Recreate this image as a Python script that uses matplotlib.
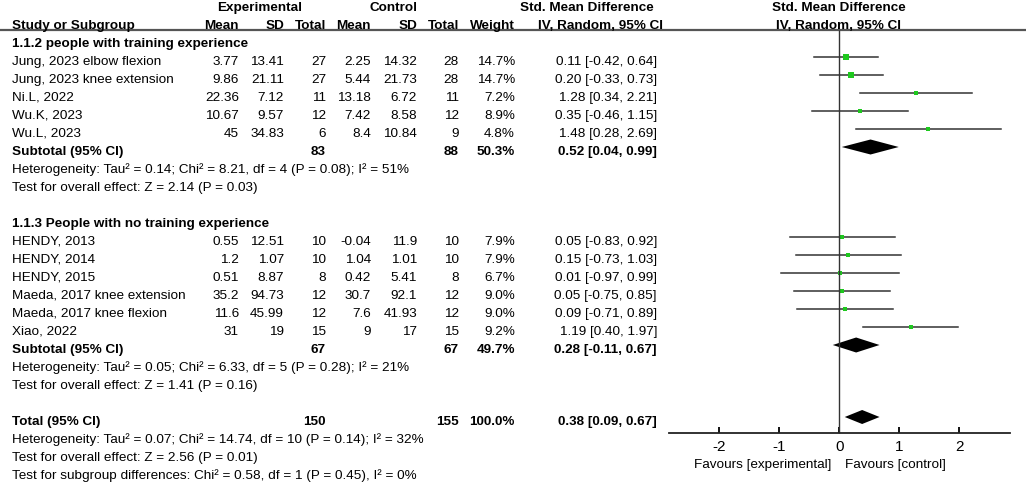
import matplotlib.pyplot as plt

plt.rcParams['font.family'] = ['Liberation Sans', 'DejaVu Sans']
plt.rcParams['axes.unicode_minus'] = False

# group 1.1.2
names1 = ['Jung, 2023 elbow flexion', 'Jung, 2023 knee extension', 'Ni.L, 2022', 'Wu.K, 2023', 'Wu.L, 2023']
exp_mean1 = ['3.77', '9.86', '22.36', '10.67', '45']
exp_sd1 = ['13.41', '21.11', '7.12', '9.57', '34.83']
exp_n1 = [27, 27, 11, 12, 6]
ctl_mean1 = ['2.25', '5.44', '13.18', '7.42', '8.4']
ctl_sd1 = ['14.32', '21.73', '6.72', '8.58', '10.84']
ctl_n1 = [28, 28, 11, 12, 9]
weight1 = [14.7, 14.7, 7.2, 8.9, 4.8]
smd1 = [0.11, 0.20, 1.28, 0.35, 1.48]
lo1 = [-0.42, -0.33, 0.34, -0.46, 0.28]
hi1 = [0.64, 0.73, 2.21, 1.15, 2.69]
sub1 = (0.52, 0.04, 0.99)

# group 1.1.3
names2 = ['HENDY, 2013', 'HENDY, 2014', 'HENDY, 2015', 'Maeda, 2017 knee extension', 'Maeda, 2017 knee flexion', 'Xiao, 2022']
exp_mean2 = ['0.55', '1.2', '0.51', '35.2', '11.6', '31']
exp_sd2 = ['12.51', '1.07', '8.87', '94.73', '45.99', '19']
exp_n2 = [10, 10, 8, 12, 12, 15]
ctl_mean2 = ['-0.04', '1.04', '0.42', '30.7', '7.6', '9']
ctl_sd2 = ['11.9', '1.01', '5.41', '92.1', '41.93', '17']
ctl_n2 = [10, 10, 8, 12, 12, 15]
weight2 = [7.9, 7.9, 6.7, 9.0, 9.0, 9.2]
smd2 = [0.05, 0.15, 0.01, 0.05, 0.09, 1.19]
lo2 = [-0.83, -0.73, -0.97, -0.75, -0.71, 0.40]
hi2 = [0.92, 1.03, 0.99, 0.85, 0.89, 1.97]
sub2 = (0.28, -0.11, 0.67)

total = (0.38, 0.09, 0.67)
xticks = [-2, -1, 0, 1, 2]

W, H = 1026, 485
fig = plt.figure(figsize=(W / 100, H / 100), dpi=100)
tab = fig.add_axes([0, 0, 1, 1])
tab.set_xlim(0, W)
tab.set_ylim(H, 0)
tab.axis('off')

x0, x1 = -2.84, 2.845
px0, px1 = 669, 1010
ax = fig.add_axes([px0 / W, 0, (px1 - px0) / W, 1])
ax.set_xlim(x0, x1)
ax.set_ylim(H, 0)
ax.patch.set_alpha(0)

fs = 9.7
cols = [239, 284, 326, 371, 417, 459, 515]
ci_x = 657


def row_y(i):
    return 8 + 18 * i


def txt(x, i, s, ha='left', bold=False):
    tab.text(x, row_y(i), s, ha=ha, va='center', fontsize=fs,
             fontweight='bold' if bold else 'normal')


# headers
tab.text(260, row_y(0), 'Experimental', ha='center', va='center', fontsize=fs, fontweight='bold')
tab.text(394, row_y(0), 'Control', ha='center', va='center', fontsize=fs, fontweight='bold')
tab.text(587, row_y(0), 'Std. Mean Difference', ha='center', va='center', fontsize=fs, fontweight='bold')
tab.text(601, row_y(1), 'IV, Random, 95% CI', ha='center', va='center', fontsize=fs, fontweight='bold')
tab.text(839, row_y(0), 'Std. Mean Difference', ha='center', va='center', fontsize=fs, fontweight='bold')
tab.text(838, row_y(1), 'IV, Random, 95% CI', ha='center', va='center', fontsize=fs, fontweight='bold')
txt(12, 1, 'Study or Subgroup', bold=True)
for x, s in zip(cols, ['Mean', 'SD', 'Total', 'Mean', 'SD', 'Total', 'Weight']):
    txt(x, 1, s, ha='right', bold=True)
tab.plot([0, W], [31, 31], color='#555555', lw=1.6)


def diamond(est, y, h=7.5):
    m, l, u = est
    ax.fill([l, m, u, m], [y, y - h, y, y + h], color='black', lw=0)


def draw_group(start, title, names, em, es, en, cm, cs, cn, wt, smd, lo, hi, sub, het, test):
    txt(12, start, title, bold=True)
    for k in range(len(names)):
        i = start + 1 + k
        txt(12, i, names[k])
        vals = [em[k], es[k], str(en[k]), cm[k], cs[k], str(cn[k]), '%.1f%%' % wt[k]]
        for x, s in zip(cols, vals):
            txt(x, i, s, ha='right')
        txt(ci_x, i, '%.2f [%.2f, %.2f]' % (smd[k], lo[k], hi[k]), ha='right')
        y = row_y(i) - 4
        ax.plot([lo[k], hi[k]], [y, y], color='#333333', lw=1.1)
        ax.plot(smd[k], y, marker='s', color='#1ec81e', ms=1.05 * wt[k] ** 0.5, mew=0)
    i = start + 1 + len(names)
    txt(12, i, 'Subtotal (95% CI)', bold=True)
    txt(cols[2], i, str(sum(en)), ha='right', bold=True)
    txt(cols[5], i, str(sum(cn)), ha='right', bold=True)
    txt(cols[6], i, '%.1f%%' % sum(wt), ha='right', bold=True)
    txt(ci_x, i, '%.2f [%.2f, %.2f]' % sub, ha='right', bold=True)
    diamond(sub, row_y(i) - 4)
    txt(12, i + 1, het)
    txt(12, i + 2, test)


draw_group(2, '1.1.2 people with training experience', names1, exp_mean1, exp_sd1, exp_n1,
           ctl_mean1, ctl_sd1, ctl_n1, weight1, smd1, lo1, hi1, sub1,
           'Heterogeneity: Tau\u00b2 = 0.14; Chi\u00b2 = 8.21, df = 4 (P = 0.08); I\u00b2 = 51%',
           'Test for overall effect: Z = 2.14 (P = 0.03)')
draw_group(12, '1.1.3 People with no training experience', names2, exp_mean2, exp_sd2, exp_n2,
           ctl_mean2, ctl_sd2, ctl_n2, weight2, smd2, lo2, hi2, sub2,
           'Heterogeneity: Tau\u00b2 = 0.05; Chi\u00b2 = 6.33, df = 5 (P = 0.28); I\u00b2 = 21%',
           'Test for overall effect: Z = 1.41 (P = 0.16)')

txt(12, 23, 'Total (95% CI)', bold=True)
txt(cols[2], 23, str(sum(exp_n1) + sum(exp_n2)), ha='right', bold=True)
txt(cols[5], 23, str(sum(ctl_n1) + sum(ctl_n2)), ha='right', bold=True)
txt(cols[6], 23, '100.0%', ha='right', bold=True)
txt(ci_x, 23, '%.2f [%.2f, %.2f]' % total, ha='right', bold=True)
diamond(total, row_y(23) - 4, h=7)
txt(12, 24, 'Heterogeneity: Tau\u00b2 = 0.07; Chi\u00b2 = 14.74, df = 10 (P = 0.14); I\u00b2 = 32%')
txt(12, 25, 'Test for overall effect: Z = 2.56 (P = 0.01)')
txt(12, 26, 'Test for subgroup differences: Chi\u00b2 = 0.58, df = 1 (P = 0.45), I\u00b2 = 0%')

# forest axis
axis_y = 434
ax.vlines(0, 31, axis_y, color='#333333', lw=1)
for s in ['top', 'left', 'right']:
    ax.spines[s].set_visible(False)
ax.spines['bottom'].set_position(('data', axis_y))
ax.spines['bottom'].set_linewidth(1.3)
ax.spines['bottom'].set_color('#222222')
ax.set_yticks([])
ax.set_xticks(xticks)
ax.tick_params(axis='x', direction='in', length=4, width=1.3, pad=4, labelsize=fs + 1.3)
ax.text(-0.13, 465, 'Favours [experimental]', ha='right', va='center', fontsize=fs)
ax.text(0.1, 465, 'Favours [control]', ha='left', va='center', fontsize=fs)

fig.savefig('out.png', dpi=100)
